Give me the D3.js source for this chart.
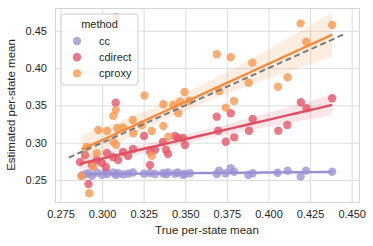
<!DOCTYPE html>
<html>
<head>
<meta charset="utf-8">
<script src="https://cdn.jsdelivr.net/npm/d3@7"></script>
<style>
  body { margin: 0; background: #fff; }
  text { font-family: "Liberation Sans", Arial, sans-serif; fill: #262626; }
</style>
</head>
<body>
<svg id="chart" width="373" height="246"></svg>
<script>
// method names, legend order
var methods = ["cc", "cdirect", "cproxy"];
var colors = ["#9d93d3", "#e2576b", "#f99a55"];
var lineColors = ["#9a8fd2", "#e04e63", "#f78b3d"];

// cc: estimated vs true per-state mean
var ccX = [0.2877, 0.2897, 0.2918, 0.2939, 0.2969, 0.2999, 0.3023, 0.3029, 0.3066, 0.3082,
    0.3096, 0.3126, 0.3156, 0.3186, 0.3252, 0.3288, 0.3318, 0.3366, 0.3384, 0.3396,
    0.3438, 0.3456, 0.3486, 0.3498, 0.3528, 0.3689, 0.3703, 0.3743, 0.3773, 0.3793,
    0.3879, 0.3905, 0.4055, 0.4115, 0.4193, 0.4225, 0.4383];
var ccY = [0.2560, 0.2575, 0.2590, 0.2555, 0.2600, 0.2570, 0.2610, 0.2580, 0.2600, 0.2565,
    0.2590, 0.2575, 0.2585, 0.2600, 0.2585, 0.2595, 0.2580, 0.2590, 0.2575, 0.2600,
    0.2585, 0.2600, 0.2570, 0.2580, 0.2590, 0.2580, 0.2625, 0.2590, 0.2657, 0.2611,
    0.2567, 0.2590, 0.2598, 0.2625, 0.2545, 0.2625, 0.2611];

// cdirect
var cdX = [0.2867, 0.2897, 0.2918, 0.2939, 0.2969, 0.2999, 0.3023, 0.3029, 0.3066, 0.3096,
    0.3126, 0.3156, 0.3186, 0.3252, 0.3288, 0.3288, 0.3318, 0.3366, 0.3384, 0.3396,
    0.3438, 0.3456, 0.3486, 0.3498, 0.3082, 0.3689, 0.3698, 0.3743, 0.3773, 0.3794,
    0.3883, 0.3905, 0.4059, 0.4113, 0.4195, 0.4229, 0.4383];
var cdY = [0.2741, 0.2835, 0.2446, 0.2701, 0.2768, 0.2728, 0.2674, 0.2862, 0.2808, 0.2768,
    0.2875, 0.2822, 0.2916, 0.3090, 0.2701, 0.2875, 0.2902, 0.3009, 0.2902, 0.2849,
    0.3090, 0.3063, 0.3063, 0.2969, 0.3536, 0.3349, 0.3161, 0.3013, 0.3394, 0.3072,
    0.3161, 0.3317, 0.3161, 0.3237, 0.3542, 0.3461, 0.3595];

// cproxy
var cpX = [0.2877, 0.2923, 0.2947, 0.2907, 0.2968, 0.2977, 0.3029, 0.3067, 0.3084, 0.3091,
    0.3126, 0.3082, 0.3067, 0.3082, 0.3188, 0.3184, 0.3238, 0.3255, 0.3298, 0.3298,
    0.3368, 0.3398, 0.3368, 0.3428, 0.3468, 0.3495, 0.3458, 0.3524, 0.3689, 0.3703,
    0.3743, 0.3773, 0.3793, 0.3881, 0.3903, 0.4057, 0.4115, 0.4193, 0.4227, 0.4383];
var cpY = [0.2554, 0.2322, 0.2678, 0.2942, 0.2858, 0.3170, 0.3157, 0.3013, 0.2969, 0.3193,
    0.3204, 0.3438, 0.3358, 0.4685, 0.3126, 0.3304, 0.3237, 0.3633, 0.3157, 0.2826,
    0.3224, 0.3080, 0.3515, 0.3505, 0.3550, 0.3680, 0.3394, 0.3563, 0.4185, 0.3693,
    0.3470, 0.4145, 0.3560, 0.3804, 0.4073, 0.3751, 0.3877, 0.4600, 0.4354, 0.4578];

var xTicks = [0.275, 0.300, 0.325, 0.350, 0.375, 0.400, 0.425, 0.450];
var yTicks = [0.25, 0.30, 0.35, 0.40, 0.45];
var identityRange = [0.280, 0.446];

var series = [
    { name: methods[0], xs: ccX, ys: ccY, color: colors[0], line: lineColors[0] },
    { name: methods[1], xs: cdX, ys: cdY, color: colors[1], line: lineColors[1] },
    { name: methods[2], xs: cpX, ys: cpY, color: colors[2], line: lineColors[2] }
];

var svg = d3.select("#chart");
var padL = 55, padR = 359, padT = 8, padB = 202;

var x = d3.scaleLinear().domain([0.2717, 0.4544]).range([padL, padR]);
var y = d3.scaleLinear().domain([0.2205, 0.4806]).range([padB, padT]);

function styleAxis(g) {
    g.select(".domain").attr("stroke", "#d5d5d5");
    g.selectAll(".tick line").attr("stroke", "#dddddd").attr("stroke-width", 1);
    g.selectAll(".tick text").attr("font-size", 11).attr("fill", "#262626")
        .attr("font-family", "Liberation Sans, Arial, sans-serif");
}

// grid + ticks
svg.append("g")
    .attr("transform", "translate(0," + padB + ")")
    .call(d3.axisBottom(x).tickValues(xTicks).tickSize(-(padB - padT)).tickFormat(d3.format(".3f")).tickPadding(8))
    .call(styleAxis);

svg.append("g")
    .attr("transform", "translate(" + padL + ",0)")
    .call(d3.axisLeft(y).tickValues(yTicks).tickSize(-(padR - padL)).tickFormat(d3.format(".2f")).tickPadding(8))
    .call(styleAxis);

// simple OLS fit with 95% band
function fit(xs, ys) {
    var n = xs.length;
    var mx = d3.mean(xs), my = d3.mean(ys);
    var sxx = 0, sxy = 0;
    for (var i = 0; i < n; i++) {
        sxx += (xs[i] - mx) * (xs[i] - mx);
        sxy += (xs[i] - mx) * (ys[i] - my);
    }
    var b = sxy / sxx, a = my - b * mx;
    var sse = 0;
    for (var j = 0; j < n; j++) {
        var r = ys[j] - (a + b * xs[j]);
        sse += r * r;
    }
    var s = Math.sqrt(sse / (n - 2));
    var lo = d3.min(xs), hi = d3.max(xs);
    return d3.range(0, 41).map(function (k) {
        var xv = lo + (hi - lo) * k / 40;
        var se = s * Math.sqrt(1 / n + (xv - mx) * (xv - mx) / sxx);
        var yv = a + b * xv;
        return { x: xv, y: yv, y0: yv - 2.02 * se, y1: yv + 2.02 * se };
    });
}

var line = d3.line().x(function (d) { return x(d.x); }).y(function (d) { return y(d.y); });
var band = d3.area().x(function (d) { return x(d.x); })
    .y0(function (d) { return y(d.y0); }).y1(function (d) { return y(d.y1); });

series.forEach(function (s) {
    var g = svg.append("g");
    g.selectAll("circle")
        .data(d3.range(s.xs.length))
        .enter().append("circle")
        .attr("cx", function (i) { return x(s.xs[i]); })
        .attr("cy", function (i) { return y(s.ys[i]); })
        .attr("r", 4.2)
        .attr("fill", s.color)
        .attr("fill-opacity", 0.8);

    var pts = fit(s.xs, s.ys);
    g.append("path").datum(pts).attr("d", band)
        .attr("fill", s.line).attr("fill-opacity", 0.15);
    g.append("path").datum(pts).attr("d", line)
        .attr("fill", "none").attr("stroke", s.line).attr("stroke-width", 2.4);
});

// identity reference
svg.append("path")
    .datum(identityRange)
    .attr("d", d3.line().x(function (d) { return x(d); }).y(function (d) { return y(d); }))
    .attr("fill", "none")
    .attr("stroke", "#7a7a7a")
    .attr("stroke-width", 2)
    .attr("stroke-dasharray", "6,3.5");

// axis labels
svg.append("text")
    .attr("x", (padL + padR) / 2).attr("y", 234)
    .attr("text-anchor", "middle").attr("font-size", 11.5)
    .text("True per-state mean");

svg.append("text")
    .attr("transform", "translate(15," + ((padT + padB) / 2) + ") rotate(-90)")
    .attr("text-anchor", "middle").attr("font-size", 11.5)
    .text("Estimated per-state mean");

// legend
var lg = svg.append("g");
lg.append("rect")
    .attr("x", 61).attr("y", 14).attr("width", 77).attr("height", 71)
    .attr("rx", 3).attr("fill", "#fff").attr("fill-opacity", 0.8)
    .attr("stroke", "#d0d0d0").attr("stroke-width", 1);
lg.append("text")
    .attr("x", 99.5).attr("y", 28).attr("text-anchor", "middle").attr("font-size", 11)
    .text("method");
methods.forEach(function (m, i) {
    lg.append("circle")
        .attr("cx", 77).attr("cy", 41 + i * 16.2).attr("r", 4.2)
        .attr("fill", colors[i]).attr("fill-opacity", 0.8);
    lg.append("text")
        .attr("x", 99).attr("y", 45 + i * 16.2).attr("font-size", 11)
        .text(m);
});
</script>
</body>
</html>
